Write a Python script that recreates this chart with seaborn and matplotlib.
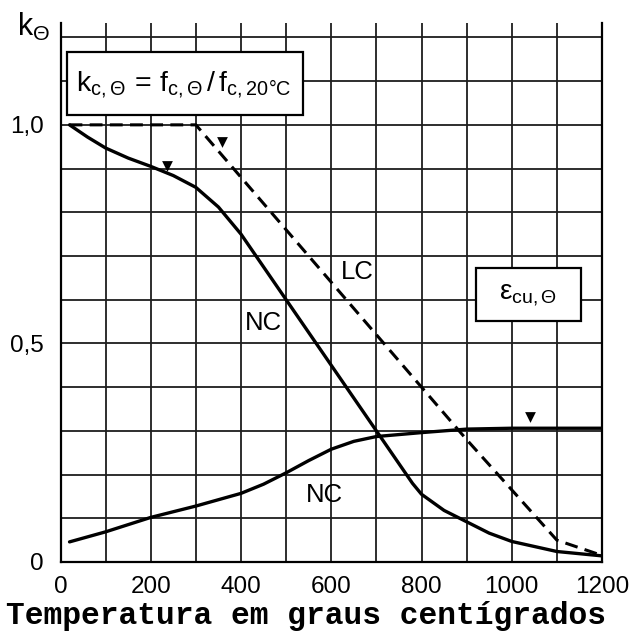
import numpy as np
import pandas as pd
import matplotlib
matplotlib.use("Agg")
import matplotlib.pyplot as plt
import seaborn as sns
from matplotlib.patches import Rectangle

# ---------------- data ----------------
nc_temp = [20, 60, 100, 150, 200, 250, 300, 350, 400, 500, 600, 700, 780, 800, 850, 900, 950, 1000, 1100, 1200]
nc_k = [1.0, 0.972, 0.947, 0.924, 0.905, 0.884, 0.857, 0.812, 0.75, 0.60, 0.45, 0.30, 0.18, 0.155, 0.118, 0.092, 0.066, 0.047, 0.024, 0.014]

lc_temp = [20, 100, 200, 300, 400, 500, 600, 700, 800, 900, 1000, 1100, 1200]
lc_k = [1.0, 1.0, 1.0, 1.0, 0.88, 0.76, 0.64, 0.52, 0.40, 0.28, 0.165, 0.05, 0.015]

eps_temp = [20, 100, 200, 300, 400, 450, 500, 550, 600, 650, 700, 800, 900, 1000, 1100, 1200]
eps_k = [0.046, 0.069, 0.102, 0.128, 0.157, 0.178, 0.204, 0.232, 0.258, 0.276, 0.287, 0.296, 0.304, 0.306, 0.306, 0.306]

marker_temp = [235, 358, 1040]
marker_k = [0.905, 0.96, 0.332]

x_grid = list(range(0, 1201, 100))
x_labels = ["0", "", "200", "", "400", "", "600", "", "800", "", "1000", "", "1200"]
y_grid = [0.0, 0.1, 0.2, 0.3, 0.4, 0.5, 0.6, 0.7, 0.8, 0.9, 1.0, 1.1, 1.2]
y_labels = ["0", "", "", "", "", "0,5", "", "", "", "", "1,0", "", ""]

box_formula = r"$\mathrm{k_{c,\Theta}}\,=\,\mathrm{f_{c,\Theta}}\,/\,\mathrm{f_{c,20°C}}$"
box_eps = r"$\mathrm{\varepsilon_{cu,\Theta}}$"
y_title = r"$\mathrm{k_{\Theta}}$"
x_title = "Temperatura em graus centígrados"

# ---------------- style ----------------
sns.set_style("white")
plt.rcParams["font.family"] = ["Liberation Sans", "DejaVu Sans"]
plt.rcParams["text.color"] = "black"
plt.rcParams["axes.labelcolor"] = "black"
plt.rcParams["mathtext.fontset"] = "custom"
plt.rcParams["mathtext.rm"] = "Liberation Sans"
plt.rcParams["mathtext.it"] = "Liberation Sans"
plt.rcParams["mathtext.bf"] = "Liberation Sans:bold"

W, H = 634, 632
fig = plt.figure(figsize=(W / 100, H / 100), dpi=100)
fig.patch.set_facecolor("white")
x0, x1, ytop, ybot = 60.5, 602, 23, 562
ax = fig.add_axes([x0 / W, 1 - ybot / H, (x1 - x0) / W, (ybot - ytop) / H])

df_nc = pd.DataFrame({"T": nc_temp, "k": nc_k})
df_lc = pd.DataFrame({"T": lc_temp, "k": lc_k})
df_eps = pd.DataFrame({"T": eps_temp, "k": eps_k})

sns.lineplot(data=df_nc, x="T", y="k", color="black", lw=2.4, ax=ax,
             estimator=None, sort=False, zorder=4)
sns.lineplot(data=df_eps, x="T", y="k", color="black", lw=2.4, ax=ax,
             estimator=None, sort=False, zorder=4)
sns.lineplot(data=df_lc, x="T", y="k", color="black", lw=2.2, ax=ax,
             estimator=None, sort=False, zorder=4, linestyle="--")
ax.lines[-1].set_dashes((4.2, 2.4))

ax.scatter(marker_temp, marker_k, marker="v", s=60, color="black", zorder=5, linewidths=0)

ax.set_xlim(0, 1200)
ax.set_ylim(0, 1.233)
ax.set_xticks(x_grid)
ax.set_xticklabels(x_labels)
ax.set_yticks(y_grid)
ax.set_yticklabels(y_labels)
ax.grid(True, color="#1e1e1e", lw=1.3, zorder=1)
ax.set_axisbelow(True)
ax.tick_params(axis="both", length=0, labelsize=17.5, colors="black", labelcolor="black")
ax.tick_params(axis="x", pad=10)
ax.tick_params(axis="y", pad=12)
ax.set_xlabel("")
ax.set_ylabel("")

ax.spines["top"].set_visible(False)
for s in ["left", "right", "bottom"]:
    ax.spines[s].set_visible(True)
    ax.spines[s].set_color("black")
    ax.spines[s].set_linewidth(1.6)

# boxes
ax.add_patch(Rectangle((14, 1.023), 524, 0.144, facecolor="white",
                       edgecolor="black", lw=1.6, zorder=6))
ax.text(274, 1.092, box_formula, fontsize=20.5, ha="center", va="center",
        color="black", zorder=7)

ax.add_patch(Rectangle((921, 0.551), 233, 0.122, facecolor="white",
                       edgecolor="black", lw=1.6, zorder=6))
ax.text(1037, 0.611, box_eps, fontsize=20, ha="center", va="center",
        color="black", zorder=7)

# curve labels
ax.text(657, 0.664, "LC", fontsize=18.5, ha="center", va="center", color="black", zorder=7)
ax.text(449, 0.547, "NC", fontsize=18.5, ha="center", va="center", color="black", zorder=7)
ax.text(584, 0.153, "NC", fontsize=18.5, ha="center", va="center", color="black", zorder=7)

fig.text(34 / W, 1 - 27 / H, y_title, fontsize=22, ha="center", va="center", color="black")
fig.text(306 / W, 1 - 616 / H, x_title, family=["Liberation Mono", "DejaVu Sans Mono"],
         weight="bold", fontsize=22.5, ha="center", va="center", color="black")

fig.savefig("out.png", dpi=100, facecolor="white")
